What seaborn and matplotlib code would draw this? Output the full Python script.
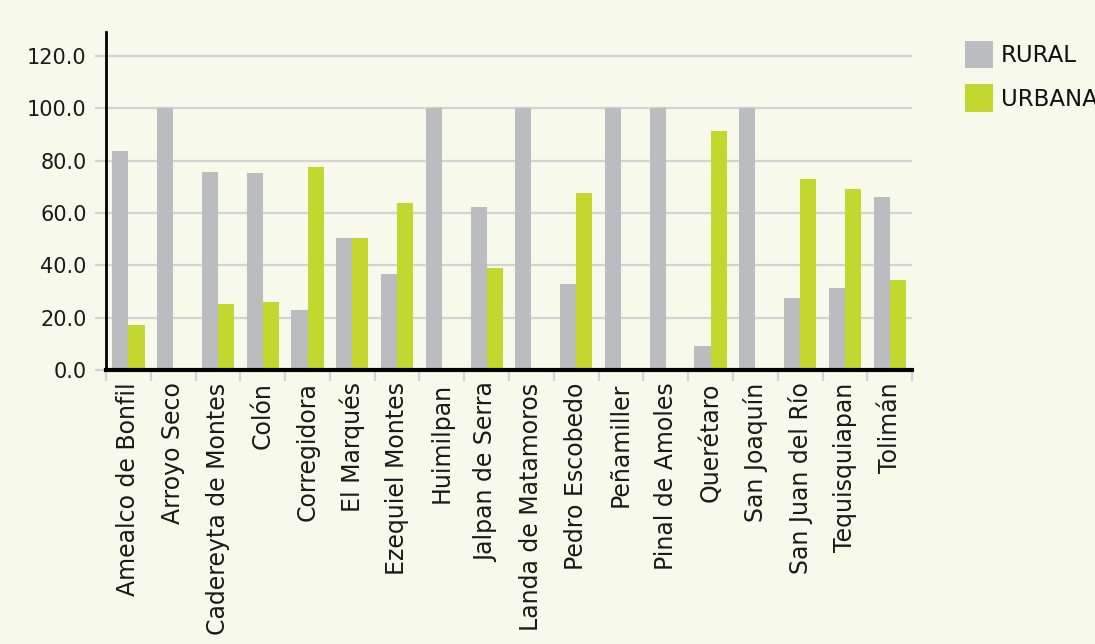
import numpy as np
import pandas as pd
import matplotlib
matplotlib.use("Agg")
import matplotlib.pyplot as plt
import seaborn as sns

# municipios y porcentaje de poblacion rural / urbana
municipios = ["Amealco de Bonfil", "Arroyo Seco", "Cadereyta de Montes", "Colón",
              "Corregidora", "El Marqués", "Ezequiel Montes", "Huimilpan",
              "Jalpan de Serra", "Landa de Matamoros", "Pedro Escobedo", "Peñamiller",
              "Pinal de Amoles", "Querétaro", "San Joaquín", "San Juan del Río",
              "Tequisquiapan", "Tolimán"]
rural = [83.6, 100.0, 75.6, 75.2, 22.9, 50.4, 36.6, 100.0, 62.2, 100.0,
         32.8, 100.0, 100.0, 9.1, 100.0, 27.5, 31.3, 66.0]
urbana = [17.2, 0.0, 25.2, 26.0, 77.5, 50.4, 63.7, 0.0, 38.9, 0.0,
          67.6, 0.0, 0.0, 91.2, 0.0, 72.9, 69.1, 34.4]
yticks = [0, 20, 40, 60, 80, 100, 120]

df = pd.DataFrame({"Municipio": municipios * 2,
                   "Tipo": ["RURAL"] * len(rural) + ["URBANA"] * len(urbana),
                   "Valor": rural + urbana})

bg = "#F7F9EB"
sns.set_theme(style="white")
plt.rcParams["font.family"] = ["DejaVu Sans"]

fig = plt.figure(figsize=(10.95, 6.44), dpi=100, facecolor=bg)
ax = fig.add_axes([0.0968, 0.4255, 0.7362, 0.5245])
ax.set_facecolor(bg)

sns.barplot(data=df, x="Municipio", y="Valor", hue="Tipo",
            hue_order=["RURAL", "URBANA"],
            palette={"RURAL": "#BBBCC0", "URBANA": "#C2D82E"},
            width=0.72, gap=0, saturation=1, linewidth=0, ax=ax, legend=True)

ax.set_ylim(0, 129)
ax.set_xlim(-0.5, len(municipios) - 0.5)
ax.set_yticks(yticks)
ax.set_yticklabels(["%.1f" % v for v in yticks])
ax.yaxis.grid(True, color="#D3D3D3", linewidth=1.6)
ax.set_axisbelow(True)
ax.set_xlabel("")
ax.set_ylabel("")

for s in ["top", "right"]:
    ax.spines[s].set_visible(False)
ax.spines["left"].set_color("black")
ax.spines["left"].set_linewidth(2)
ax.spines["bottom"].set_color("black")
ax.spines["bottom"].set_linewidth(3)

ax.tick_params(axis="y", which="major", length=8, width=1.6, color="#D3D3D3",
               labelsize=15, pad=6, labelcolor="#1a1a1a", left=True)
ax.set_xticks(np.arange(len(municipios)))
ax.set_xticklabels(municipios, rotation=90, fontsize=17, color="#1a1a1a")
ax.tick_params(axis="x", which="major", length=0, pad=9)
ax.set_xticks(np.arange(len(municipios) + 1) - 0.5, minor=True)
ax.tick_params(axis="x", which="minor", length=8, width=1.6, color="#D3D3D3",
               bottom=True)

handles, labels = ax.get_legend_handles_labels()
ax.legend_.remove()
fig.legend(handles, labels, loc="upper left", bbox_to_anchor=(0.881, 0.936),
           frameon=False, fontsize=16.5, handlelength=1.22, handleheight=1.45,
           handletextpad=0.35, labelspacing=0.7, borderpad=0, borderaxespad=0,
           labelcolor="#111111")

fig.savefig("out.png", dpi=100, facecolor=bg)
